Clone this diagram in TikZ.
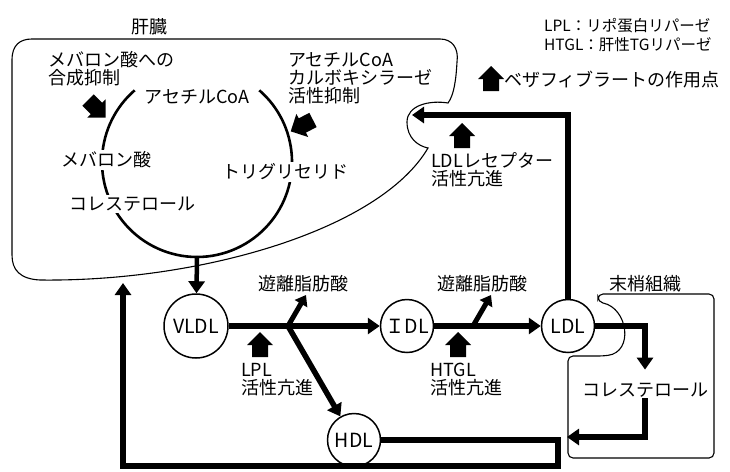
\documentclass[tikz,border=0pt]{standalone}
\usepackage{fontspec}
\setmainfont{Noto Sans CJK JP}
\usetikzlibrary{arrows.meta}

\tikzset{
  lipo/.style={circle,draw,line width=1.5pt,inner sep=0pt,minimum size=53pt,font=\fontsize{19.5}{19.5}\selectfont},
  flowline/.style={line width=5.5pt,-{Triangle[length=12pt,width=16pt]}},
  fabranch/.style={line width=5pt,-{Triangle[length=10pt,width=14pt]}},
  loopline/.style={line width=2.6pt},
  organ/.style={line width=1.1pt},
  lbl/.style={font=\fontsize{18}{18}\selectfont,align=left,inner sep=1pt},
  masklbl/.style={lbl,fill=white,inner sep=2pt},
  fibrate/.pic={\fill (-8,0) -- (-8,-12) -- (-13,-12) -- (0,-25) -- (13,-12) -- (8,-12) -- (8,0) -- cycle;}
}

\begin{document}
\begin{tikzpicture}[x=1pt,y=-1pt]
\useasboundingbox (0,0) rectangle (730,471);
%\draw (0,0) rectangle (730,471);

% organs
\draw[organ] (32,39) -- (440,39) .. controls (452,39) and (459,48) .. (457,62)
  .. controls (456,80) and (454,95) .. (448,103)
  .. controls (430,100) and (407,105) .. (407,122)
  .. controls (407,138) and (418,146) .. (428,148)
  .. controls (380,230) and (200,282) .. (40,280)
  .. controls (20,279) and (12,270) .. (12,255)
  -- (12,60) .. controls (12,45) and (20,39) .. (32,39) -- cycle;
\draw[organ,rounded corners=5pt] (568,400) -- (568,458) -- (714,458) -- (714,294) -- (598,294) -- (598,302)
  .. controls (628,308) and (634,352) .. (603,356) -- (568,356) -- cycle;
\draw (149,27) node[lbl] (liver) {肝臓};
\draw (645,284) node[lbl] (periph) {末梢組織};

% synthesis cycle
\coordinate (cyc) at (197,162);
\coordinate (cycbot) at (197,257);
\draw[loopline] (cyc) ++(-131:95) arc[start angle=-131,end angle=-270,radius=95];
\draw[loopline] (cyc) ++(-49:95) arc[start angle=-49,end angle=90,radius=95];
\draw (197,97) node[lbl] (acoa) {アセチルCoA};
\draw (106,160) node[masklbl] (mev) {メバロン酸};
\draw (132,204) node[masklbl] (chol1) {コレステロール};
\draw (285,172) node[masklbl] (tg) {トリグリセリド};
\draw (47,69) node[lbl,anchor=west] (mevinh) {メバロン酸への\\合成抑制};
\draw (287,78) node[lbl,anchor=west] (accinh) {アセチルCoA\\カルボキシラーゼ\\活性抑制};
\pic[rotate=-135] at (88,100) {fibrate};
\pic[rotate=117] at (313,120) {fibrate};

% lipoproteins
\draw (196,326) node[lipo,minimum size=64pt] (vldl) {VLDL};
\draw (407,326) node[lipo] (idl) {ＩDL};
\draw (568,326) node[lipo] (ldl) {LDL};
\draw (354,440) node[lipo] (hdl) {HDL};
\draw (303,284) node[lbl] (ffa1) {遊離脂肪酸};
\draw (482,284) node[lbl] (ffa2) {遊離脂肪酸};
\draw (645,390) node[lbl] (chol2) {コレステロール};

\coordinate (bp1) at (288,326);
\coordinate (bp2) at (473,326);
\coordinate (fa1tip) at (306,295);
\coordinate (fa2tip) at (491,295);
\coordinate (rectip) at (412,115);
\coordinate (pertip) at (567,437);
\coordinate (hdlturn) at (558,466);
\coordinate (livtip) at (123,283);

\draw[flowline,line width=4.5pt] (cycbot) -- (vldl);
\draw[flowline] (vldl) -- (idl);
\draw[fabranch] (bp1) -- (fa1tip);
\draw[flowline] (bp1) -- (hdl);
\draw[flowline] (idl) -- (ldl);
\draw[fabranch] (bp2) -- (fa2tip);
\draw[flowline] (ldl) |- (rectip);
\draw[flowline,shorten >=12pt] (ldl) -| (chol2);
\draw[flowline] (chol2) |- (pertip);
\draw[flowline] (hdl) -| (hdlturn) -| (livtip);

% fibrate action points
\pic at (260,357) {fibrate};
\draw (240,380) node[lbl,anchor=west] (lpl) {LPL\\活性亢進};
\pic at (458,357) {fibrate};
\draw (429,380) node[lbl,anchor=west] (htgl) {HTGL\\活性亢進};
\pic at (462,148) {fibrate};
\draw (430,170) node[lbl,anchor=west] (ldlr) {LDLレセプター\\活性亢進};

% legend
\draw (543,26) node[lbl,anchor=west,font=\fontsize{15.5}{15.5}\selectfont] (leg1) {LPL：リポ蛋白リパーゼ};
\draw (543,45) node[lbl,anchor=west,font=\fontsize{15.5}{15.5}\selectfont] (leg2) {HTGL：肝性TGリパーゼ};
\pic at (491,91) {fibrate};
\draw (503,80) node[lbl,anchor=west] (legfib) {ベザフィブラートの作用点};
\end{tikzpicture}
\end{document}
